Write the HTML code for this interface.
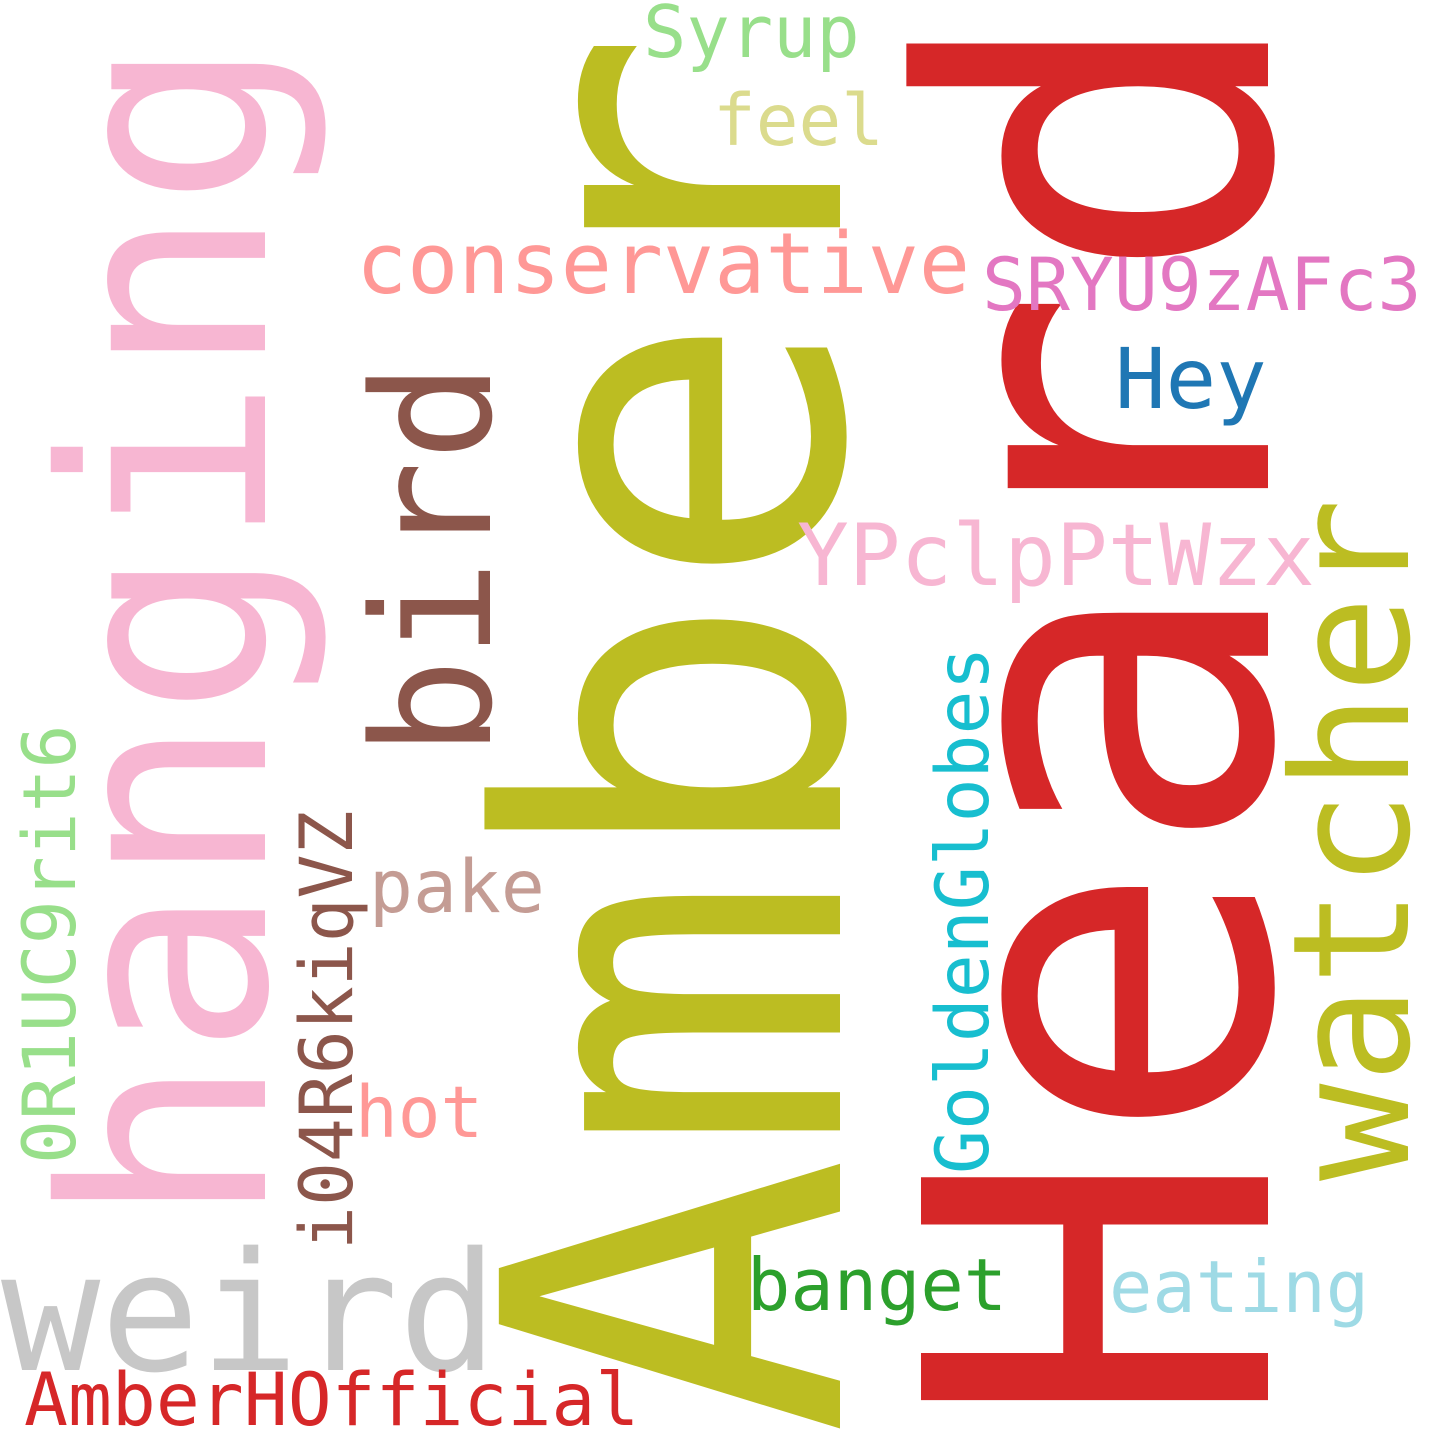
<!DOCTYPE html>
<html>
<head>
<meta charset="utf-8">
<style>
  html, body { margin: 0; padding: 0; background: #ffffff; }
  svg { display: block; }
  text { font-family: "DejaVu Sans Mono", "Liberation Mono", monospace; }
</style>
</head>
<body>
<svg width="1440" height="1440" viewBox="0 0 1440 1440" xmlns="http://www.w3.org/2000/svg">
  <rect width="1440" height="1440" fill="#ffffff"/>

  <text transform="translate(840,1437) rotate(-90)" font-size="468" fill="#bcbd22">Amber</text>
  <text transform="translate(1268,1432) rotate(-90)" font-size="476" fill="#d62728">Heard</text>
  <text transform="translate(265,1226) rotate(-90)" font-size="282" fill="#f7b6d2">hanging</text>
  <text transform="translate(490,757) rotate(-90)" font-size="164" fill="#8c564b">bird</text>
  <text transform="translate(1408,1181) rotate(-90)" font-size="162" fill="#bcbd22">watcher</text>
  <text transform="translate(988,1174) rotate(-90)" font-size="73" fill="#17becf">GoldenGlobes</text>
  <text transform="translate(352,1250) rotate(-90)" font-size="73" fill="#8c564b">i04R6kiqVZ</text>
  <text transform="translate(75,1164) rotate(-90)" font-size="73" fill="#98df8a">0R1UC9rit6</text>

  <text x="1" y="1370" font-size="165" fill="#c7c7c7">weird</text>
  <text x="24" y="1425" font-size="73" fill="#d62728">AmberHOfficial</text>
  <text x="356" y="293" font-size="85" fill="#ff9896">conservative</text>
  <text x="643" y="57" font-size="72" fill="#98df8a">Syrup</text>
  <text x="713" y="145" font-size="71" fill="#dbdb8d">feel</text>
  <text x="982" y="310" font-size="73" fill="#e377c2">SRYU9zAFc3</text>
  <text x="1115" y="408" font-size="84" fill="#1f77b4">Hey</text>
  <text x="797" y="585" font-size="86" fill="#f7b6d2">YPclpPtWzx</text>
  <text x="369" y="912" font-size="73" fill="#c49c94">pake</text>
  <text x="355" y="1137" font-size="71" fill="#ff9896">hot</text>
  <text x="747" y="1310" font-size="72" fill="#2ca02c">banget</text>
  <text x="1109" y="1312" font-size="72" fill="#9edae5">eating</text>
</svg>
</body>
</html>
